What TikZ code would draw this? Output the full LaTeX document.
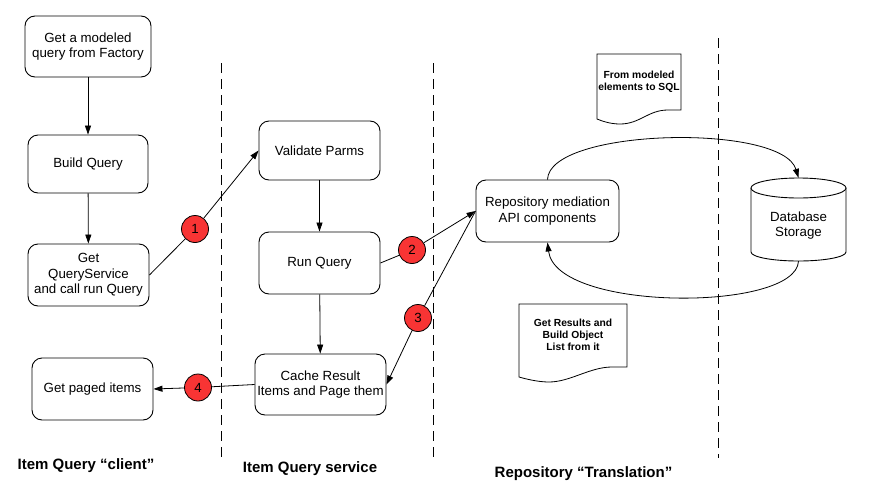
\documentclass[tikz,border=0pt]{standalone}
\usepackage{fontspec}
\setmainfont{Liberation Sans}
\usetikzlibrary{arrows.meta}
\definecolor{numred}{HTML}{F83434}
\begin{document}
\begin{tikzpicture}[x=1pt,y=-1pt,
  box/.style={draw, rounded corners=10pt, line width=0.9pt, align=center,
    font=\fontsize{13.3}{15.3}\selectfont, inner sep=0pt},
  num/.style={circle, draw, line width=0.8pt, fill=numred, minimum size=27pt,
    inner sep=0pt, font=\fontsize{13.3}{15}\selectfont},
  conn/.style={line width=0.8pt},
  arr/.style={line width=0.8pt, -{Triangle[length=9pt,width=6pt]}},
  lane/.style={line width=0.8pt, dash pattern=on 10pt off 6pt},
  lbl/.style={font=\bfseries\fontsize{15}{17}\selectfont, inner sep=0pt},
  doctext/.style={font=\bfseries\fontsize{10.3}{12}\selectfont, align=center, inner sep=0pt},
  docshape/.style={draw, line width=0.8pt, fill=white}
]
\useasboundingbox[fill=white] (0,0) rectangle (887,501);

% lanes
\draw[lane] (221,63) -- (221,460);
\draw[lane] (433,63) -- (433,460);
\draw[lane] (718,38) -- (718,458);

% boxes
\node[box, minimum width=126pt, minimum height=61pt] (b1) at (88,46.5) {Get a modeled\\query from Factory};
\node[box, minimum width=120pt, minimum height=58pt] (b2) at (88,164) {Build Query};
\node[box, minimum width=121pt, minimum height=62pt] (b3) at (88.5,275) {Get\\QueryService\\and call run Query};
\node[box, minimum width=121pt, minimum height=59pt] (vp) at (319.5,150.5) {Validate Parms};
\node[box, minimum width=121pt, minimum height=62pt] (rq) at (319.5,263) {Run Query};
\node[box, minimum width=131pt, minimum height=61pt] (cr) at (320.5,384.5) {Cache Result\\Items and Page them};
\node[box, minimum width=121pt, minimum height=62pt] (pg) at (92.5,389) {Get paged items};
\node[box, minimum width=143pt, minimum height=62pt] (rep) at (547.5,211) {Repository mediation\\API components};

% database cylinder
\draw[line width=0.9pt, fill=white] (751,188) -- (751,252)
  arc[start angle=180, end angle=360, x radius=47.5pt, y radius=9pt] -- (846,188);
\draw[line width=0.9pt, fill=white] (798.5,188) ellipse[x radius=47.5pt, y radius=10pt];
\node[minimum width=95pt, minimum height=83pt, inner sep=0pt] (db) at (798.5,219.5) {};
\node[align=center, font=\fontsize{13.3}{15.3}\selectfont, inner sep=0pt] (dbt) at (798.5,225.5) {Database\\Storage};

% documents
\draw[docshape] (597,54) -- (681,54) -- (681,110) -- (668,110)
  .. controls (648,110) and (640,124) .. (620,124)
  .. controls (610,124) and (602,121) .. (597,119) -- cycle;
\node[doctext] (d1) at (639,82) {From modeled\\elements to SQL};
\draw[docshape] (519,304) -- (627,304) -- (627,367) -- (612,367)
  .. controls (590,367) and (570,382) .. (549,382)
  .. controls (538,382) and (526,379) .. (519,377) -- cycle;
\node[doctext] (d2) at (573,335) {Get Results and\\Build Object\\List from it};

% number circles
\node[num] (c1) at (195,229) {1};
\node[num] (c2) at (412,250) {2};
\node[num] (c3) at (418,318) {3};
\node[num] (c4) at (198,387.5) {4};

% connectors
\draw[arr] (b1) -- (b2);
\draw[arr] (b2) -- (b3);
\draw[conn] (b3.east) -- (c1);
\draw[arr] (c1) -- (vp.west);
\draw[arr] (vp) -- (rq);
\draw[arr] (rq) -- (cr);
\draw[conn] (rq.east) -- (c2);
\draw[arr] (c2) -- (rep.west);
\draw[conn] (rep.west) -- (c3);
\draw[arr] (c3) -- (cr.east);
\draw[conn] (cr.west) -- (c4);
\draw[arr] (c4) -- (pg.east);
\draw[arr] (rep.north) .. controls (549,128) and (782,123) .. (db.north);
\draw[arr] (db.south) .. controls (796,312) and (556,312) .. (rep.south);

% lane labels
\node[lbl] (l1) at (86,466) {Item Query “client”};
\node[lbl] (l2) at (310,469) {Item Query service};
\node[lbl] (l3) at (583.5,474) {Repository “Translation”};
\end{tikzpicture}
\end{document}
